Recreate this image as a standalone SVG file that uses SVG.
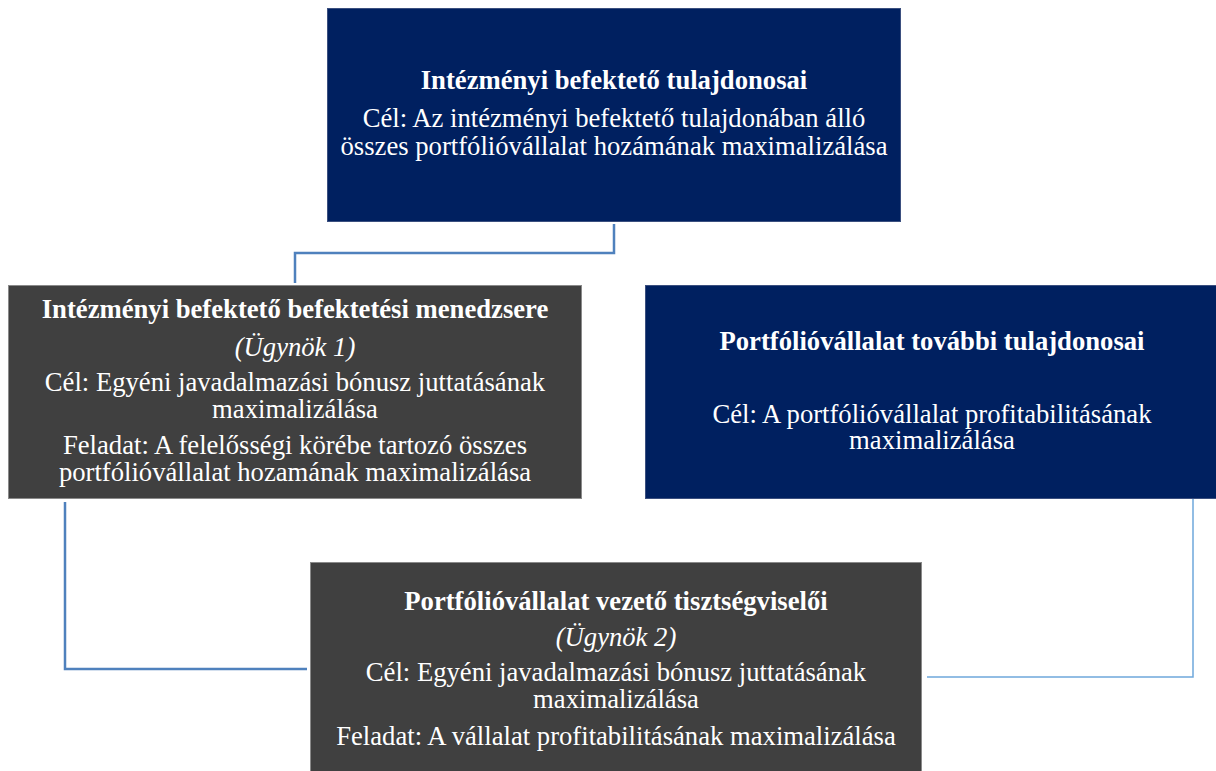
<svg xmlns="http://www.w3.org/2000/svg" width="1216" height="771" viewBox="0 0 1216 771">
  <style>
    .blue { fill: #002060; stroke: #3b4f7f; stroke-width: 1; }
    .gray { fill: #404040; stroke: #8a8a8a; stroke-width: 1; }
    text { font-family: "Liberation Serif", "Times New Roman", serif; font-size: 26.67px; fill: #ffffff; text-anchor: middle; }
    .b { font-weight: bold; }
    .i { font-style: italic; }
    .c1 { fill: none; stroke: #4f81bd; stroke-width: 2.5; }
    .c2 { fill: none; stroke: #6fa8dc; stroke-width: 1.5; }
  </style>
  <rect width="1216" height="771" fill="#ffffff"/>
  <g id="connectors">
    <polyline class="c1" points="614,224 614,253 295,253 295,283"/>
    <polyline class="c1" points="65,502 65,669 307,669"/>
    <polyline class="c2" points="1193,498 1193,677 927,677"/>
  </g>
  <g id="node-top">
    <rect class="blue" x="327.5" y="8.5" width="573" height="213"/>
    <text class="b" x="614" y="89">Intézményi befektető tulajdonosai</text>
    <text x="614" y="127">Cél: Az intézményi befektető tulajdonában álló</text>
    <text x="614" y="155">összes portfólióvállalat hozámának maximalizálása</text>
  </g>
  <g id="node-agent1">
    <rect class="gray" x="8.5" y="285.5" width="573" height="213"/>
    <text class="b" x="295" y="318">Intézményi befektető befektetési menedzsere</text>
    <text class="i" x="295" y="356">(Ügynök 1)</text>
    <text x="295" y="391">Cél: Egyéni javadalmazási bónusz juttatásának</text>
    <text x="295" y="418">maximalizálása</text>
    <text x="295" y="454">Feladat: A felelősségi körébe tartozó összes</text>
    <text x="295" y="481">portfólióvállalat hozamának maximalizálása</text>
  </g>
  <g id="node-owners">
    <rect class="blue" x="645.5" y="285.5" width="572" height="213"/>
    <text class="b" x="932" y="350">Portfólióvállalat további tulajdonosai</text>
    <text x="932" y="423">Cél: A portfólióvállalat profitabilitásának</text>
    <text x="932" y="449">maximalizálása</text>
  </g>
  <g id="node-agent2">
    <rect class="gray" x="310.5" y="562.5" width="611" height="215"/>
    <text class="b" x="616" y="610">Portfólióvállalat vezető tisztségviselői</text>
    <text class="i" x="616" y="646">(Ügynök 2)</text>
    <text x="616" y="681">Cél: Egyéni javadalmazási bónusz juttatásának</text>
    <text x="616" y="708">maximalizálása</text>
    <text x="616" y="745">Feladat: A vállalat profitabilitásának maximalizálása</text>
  </g>
</svg>
